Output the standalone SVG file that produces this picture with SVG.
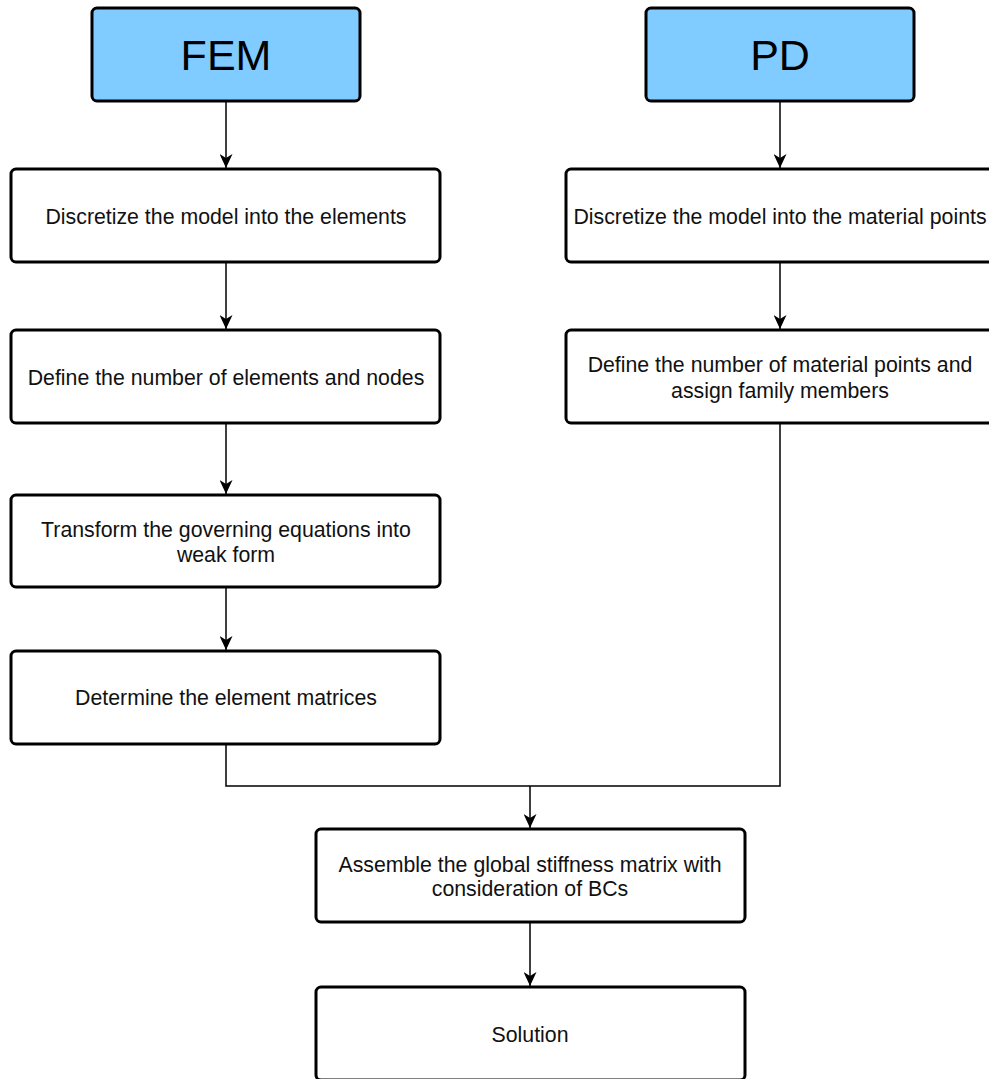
<svg xmlns="http://www.w3.org/2000/svg" width="989" height="1079" viewBox="0 0 989 1079">
<style>
.box{fill:#ffffff;stroke:#000000;stroke-width:3}
.head{fill:#80CBFF;stroke:#000000;stroke-width:3}
.t{font-family:"Liberation Sans",Arial,sans-serif;font-size:21.3px;fill:#111111;text-anchor:middle}
.big{font-family:"Liberation Sans",Arial,sans-serif;font-size:43px;fill:#000000;text-anchor:middle}
.c{fill:none;stroke:#000000;stroke-width:1.5}
</style>
<defs>
<marker id="arr" markerWidth="14" markerHeight="13" refX="14" refY="6.5" orient="auto" markerUnits="userSpaceOnUse" viewBox="0 0 14 13">
<path d="M0,0 L14,6.5 L0,13 L4,6.5 Z" fill="#000000"/>
</marker>
</defs>
<rect width="989" height="1079" fill="#ffffff"/>
<g id="connectors">
<line class="c" x1="226" y1="101" x2="226" y2="168" marker-end="url(#arr)"/>
<line class="c" x1="780" y1="101" x2="780" y2="168" marker-end="url(#arr)"/>
<line class="c" x1="226" y1="262" x2="226" y2="329" marker-end="url(#arr)"/>
<line class="c" x1="780" y1="262" x2="780" y2="329" marker-end="url(#arr)"/>
<line class="c" x1="226" y1="423" x2="226" y2="494" marker-end="url(#arr)"/>
<line class="c" x1="226" y1="587" x2="226" y2="650" marker-end="url(#arr)"/>
<polyline class="c" points="226,744 226,786 780,786 780,423"/>
<line class="c" x1="530" y1="786" x2="530" y2="828" marker-end="url(#arr)"/>
<line class="c" x1="530" y1="922" x2="530" y2="986" marker-end="url(#arr)"/>
</g>
<g id="fem">
<rect class="head" x="92" y="8" width="268" height="93" rx="5"/>
<text class="big" x="226" y="70">FEM</text>
</g>
<g id="pd">
<rect class="head" x="646" y="8" width="268" height="93" rx="5"/>
<text class="big" x="780" y="70">PD</text>
</g>
<g id="fem1">
<rect class="box" x="11" y="169" width="429" height="93" rx="5"/>
<text class="t" x="226" y="224">Discretize the model into the elements</text>
</g>
<g id="fem2">
<rect class="box" x="11" y="330" width="429" height="93" rx="5"/>
<text class="t" x="226" y="385">Define the number of elements and nodes</text>
</g>
<g id="fem3">
<rect class="box" x="11" y="495" width="429" height="92" rx="5"/>
<text class="t" x="226" y="537">Transform the governing equations into</text>
<text class="t" x="226" y="562">weak form</text>
</g>
<g id="fem4">
<rect class="box" x="11" y="651" width="429" height="93" rx="5"/>
<text class="t" x="226" y="705">Determine the element matrices</text>
</g>
<g id="pd1">
<rect class="box" x="566" y="169" width="429" height="93" rx="5"/>
<text class="t" x="780" y="224">Discretize the model into the material points</text>
</g>
<g id="pd2">
<rect class="box" x="566" y="330" width="429" height="93" rx="5"/>
<text class="t" x="780" y="372">Define the number of material points and</text>
<text class="t" x="780" y="398">assign family members</text>
</g>
<g id="assemble">
<rect class="box" x="316" y="829" width="429" height="93" rx="5"/>
<text class="t" x="530" y="872">Assemble the global stiffness matrix with</text>
<text class="t" x="530" y="896">consideration of BCs</text>
</g>
<g id="solution">
<rect class="box" x="316" y="987" width="429" height="93" rx="5"/>
<text class="t" x="530" y="1042">Solution</text>
</g>
</svg>
